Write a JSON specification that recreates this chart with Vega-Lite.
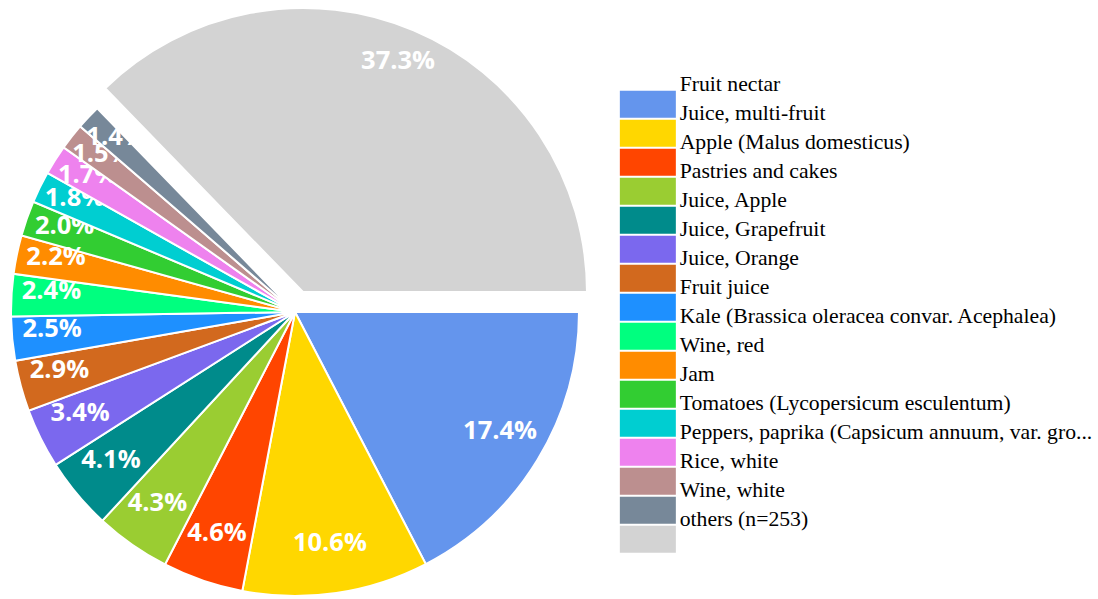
{
  "$schema": "https://vega.github.io/schema/vega-lite/v6.json",
  "width": 568,
  "height": 568,
  "autosize": {"type": "none"},
  "padding": {"left": 11, "top": 28, "right": 519, "bottom": 3},
  "background": "white",
  "config": {"view": {"stroke": null}},
  "data": {
    "values": [
      {"name": "Fruit nectar", "share": 0.174, "order": 1},
      {"name": "Juice, multi-fruit", "share": 0.106, "order": 2},
      {"name": "Apple (Malus domesticus)", "share": 0.046, "order": 3},
      {"name": "Pastries and cakes", "share": 0.043, "order": 4},
      {"name": "Juice, Apple", "share": 0.041, "order": 5},
      {"name": "Juice, Grapefruit", "share": 0.034, "order": 6},
      {"name": "Juice, Orange", "share": 0.029, "order": 7},
      {"name": "Fruit juice", "share": 0.025, "order": 8},
      {"name": "Kale (Brassica oleracea convar. Acephalea)", "share": 0.024, "order": 9},
      {"name": "Wine, red", "share": 0.022, "order": 10},
      {"name": "Jam", "share": 0.020, "order": 11},
      {"name": "Tomatoes (Lycopersicum esculentum)", "share": 0.018, "order": 12},
      {"name": "Peppers, paprika (Capsicum annuum, var. gro...", "share": 0.017, "order": 13},
      {"name": "Rice, white", "share": 0.015, "order": 14},
      {"name": "Wine, white", "share": 0.014, "order": 15},
      {"name": "others (n=253)", "share": 0.373, "order": 16}
    ]
  },
  "encoding": {
    "theta": {"field": "share", "type": "quantitative", "stack": true, "scale": {"range": [1.5707963, 7.8539816]}},
    "order": {"field": "order", "type": "quantitative"},
    "color": {
      "field": "name",
      "type": "nominal",
      "scale": {
        "domain": ["Fruit nectar", "Juice, multi-fruit", "Apple (Malus domesticus)", "Pastries and cakes", "Juice, Apple", "Juice, Grapefruit", "Juice, Orange", "Fruit juice", "Kale (Brassica oleracea convar. Acephalea)", "Wine, red", "Jam", "Tomatoes (Lycopersicum esculentum)", "Peppers, paprika (Capsicum annuum, var. gro...", "Rice, white", "Wine, white", "others (n=253)"],
        "range": ["#6495ED", "#FFD700", "#FF4500", "#9ACD32", "#008B8B", "#7B68EE", "#D2691E", "#1E90FF", "#00FF7F", "#FF8C00", "#32CD32", "#00CED1", "#EE82EE", "#BC8F8F", "#778899", "#D3D3D3"]
      },
      "legend": {
        "orient": "none",
        "legendX": 609,
        "legendY": 61,
        "title": null,
        "padding": 0,
        "symbolType": "M-11,-9L45,-9L45,18L-11,18Z",
        "symbolSize": 4,
        "symbolStrokeWidth": 0,
        "symbolOpacity": 1,
        "labelFont": "Liberation Serif",
        "labelFontSize": 21.7,
        "labelColor": "#000000",
        "labelLimit": 700,
        "labelOffset": 38,
        "labelBaseline": "alphabetic",
        "rowPadding": -40,
        "encode": {"labels": {"update": {"dy": {"value": -9}}}}
      }
    }
  },
  "layer": [
    {
      "mark": {"type": "arc", "outerRadius": 284, "stroke": "#ffffff", "strokeWidth": 2},
      "encoding": {"opacity": {"condition": {"test": "datum.order <= 11", "value": 1}, "value": 0}}
    },
    {
      "mark": {"type": "text", "radius": 240, "dy": -6, "font": "Open Sans", "fontWeight": "bold", "fontSize": 25.5, "fill": "#ffffff", "align": "center", "baseline": "middle"},
      "encoding": {"text": {"field": "share", "type": "quantitative", "format": ".1%"}, "opacity": {"condition": {"test": "datum.order <= 6", "value": 1}, "value": 0}}
    },
    {
      "mark": {"type": "text", "radius": 244, "dy": -6, "font": "Open Sans", "fontWeight": "bold", "fontSize": 25.5, "fill": "#ffffff", "align": "center", "baseline": "middle"},
      "encoding": {"text": {"field": "share", "type": "quantitative", "format": ".1%"}, "opacity": {"condition": {"test": "datum.order >= 7 && datum.order <= 11", "value": 1}, "value": 0}}
    },
    {
      "mark": {"type": "arc", "outerRadius": 284, "stroke": "#ffffff", "strokeWidth": 2},
      "encoding": {"opacity": {"condition": {"test": "datum.order == 12", "value": 1}, "value": 0}}
    },
    {
      "mark": {"type": "text", "radius": 245.5, "dy": -6, "font": "Open Sans", "fontWeight": "bold", "fontSize": 25.5, "fill": "#ffffff", "align": "center", "baseline": "middle"},
      "encoding": {"text": {"field": "share", "type": "quantitative", "format": ".1%"}, "opacity": {"condition": {"test": "datum.order == 12", "value": 1}, "value": 0}}
    },
    {
      "mark": {"type": "arc", "outerRadius": 284, "stroke": "#ffffff", "strokeWidth": 2},
      "encoding": {"opacity": {"condition": {"test": "datum.order == 13", "value": 1}, "value": 0}}
    },
    {
      "mark": {"type": "text", "radius": 245.5, "dy": -6, "font": "Open Sans", "fontWeight": "bold", "fontSize": 25.5, "fill": "#ffffff", "align": "center", "baseline": "middle"},
      "encoding": {"text": {"field": "share", "type": "quantitative", "format": ".1%"}, "opacity": {"condition": {"test": "datum.order == 13", "value": 1}, "value": 0}}
    },
    {
      "mark": {"type": "arc", "outerRadius": 284, "stroke": "#ffffff", "strokeWidth": 2},
      "encoding": {"opacity": {"condition": {"test": "datum.order == 14", "value": 1}, "value": 0}}
    },
    {
      "mark": {"type": "text", "radius": 245.5, "dy": -6, "font": "Open Sans", "fontWeight": "bold", "fontSize": 25.5, "fill": "#ffffff", "align": "center", "baseline": "middle"},
      "encoding": {"text": {"field": "share", "type": "quantitative", "format": ".1%"}, "opacity": {"condition": {"test": "datum.order == 14", "value": 1}, "value": 0}}
    },
    {
      "mark": {"type": "arc", "outerRadius": 284, "stroke": "#ffffff", "strokeWidth": 2},
      "encoding": {"opacity": {"condition": {"test": "datum.order == 15", "value": 1}, "value": 0}}
    },
    {
      "mark": {"type": "text", "radius": 246, "dy": -6, "font": "Open Sans", "fontWeight": "bold", "fontSize": 25.5, "fill": "#ffffff", "align": "center", "baseline": "middle"},
      "encoding": {"text": {"field": "share", "type": "quantitative", "format": ".1%"}, "opacity": {"condition": {"test": "datum.order == 15", "value": 1}, "value": 0}}
    },
    {
      "mark": {"type": "arc", "outerRadius": 284, "stroke": "#ffffff", "strokeWidth": 2, "xOffset": 8, "yOffset": -20},
      "encoding": {"opacity": {"condition": {"test": "datum.order == 16", "value": 1}, "value": 0}}
    },
    {
      "mark": {"type": "text", "radius": 244, "dy": -6, "font": "Open Sans", "fontWeight": "bold", "fontSize": 25.5, "fill": "#ffffff", "align": "center", "baseline": "middle", "xOffset": 8, "yOffset": -20},
      "encoding": {"text": {"field": "share", "type": "quantitative", "format": ".1%"}, "opacity": {"condition": {"test": "datum.order == 16", "value": 1}, "value": 0}}
    }
  ]
}
